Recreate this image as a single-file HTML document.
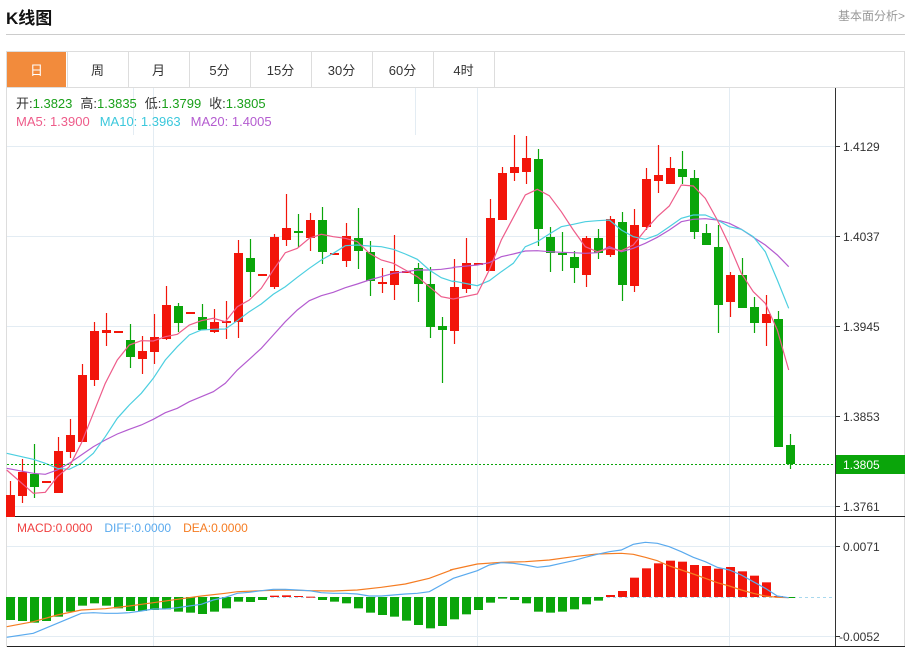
<!DOCTYPE html>
<html><head><meta charset="utf-8"><style>
body{margin:0;background:#fff;font-family:"Liberation Sans","Noto Sans CJK SC",sans-serif;}
#w{position:relative;width:913px;height:648px;overflow:hidden;}
.t{position:absolute;}
</style></head><body><div id="w">
<div class="t" style="left:6px;top:4px;font-size:17px;font-weight:bold;color:#111;">K线图</div>
<div class="t" style="left:838px;top:7px;font-size:12px;color:#999;">基本面分析&gt;</div>
<div class="t" style="left:6px;top:34px;width:899px;height:1px;background:#ccc;"></div>
<svg id="s" class="t" style="left:0;top:0" width="913" height="648" xmlns="http://www.w3.org/2000/svg"></svg>
</div>
<script>
var S=document.getElementById('s'),h='';
function R(x,y,w,hh,f,st){h+='<rect x="'+x+'" y="'+y+'" width="'+w+'" height="'+hh+'" fill="'+f+'"'+(st?' stroke="'+st+'"':'')+'/>';}
function L(x1,y1,x2,y2,c,extra){h+='<line x1="'+x1+'" y1="'+y1+'" x2="'+x2+'" y2="'+y2+'" stroke="'+c+'" '+(extra||'')+'/>';}
function T(x,y,s,c,sz,a){h+='<text x="'+x+'" y="'+y+'" fill="'+c+'" font-size="'+(sz||12)+'"'+(a?' text-anchor="'+a+'"':'')+'>'+s+'</text>';}
// frame
R(6.5,51.5,898,595,'none','#ddd');
// tabs
R(7,52,59,35,'#f28b3c');
var tabs=['日','周','月','5分','15分','30分','60分','4时'];
for(var i=0;i<8;i++){var x=6+i*61;T(x+30.5,75,tabs[i],i==0?'#fff':'#333',13,'middle');L(x+61.5,52,x+61.5,87,'#ddd');}
L(6,87.5,905,87.5,'#ddd');
// grids
[146,236,326,416,506].forEach(function(y){L(7,y+.5,835,y+.5,'#e3ecf3');});
[546,636].forEach(function(y){L(7,y+.5,835,y+.5,'#e3ecf3');});
[153,477,729].forEach(function(x){L(x+.5,88,x+.5,646,'#e3ecf3');});
L(133.5,88,133.5,135,'#e3ecf3');L(415.5,88,415.5,135,'#e3ecf3');
// axes
L(835.5,88,835.5,646,'#333');
L(7,516.5,905,516.5,'#222');L(7,646.5,905,646.5,'#222');
var pl=[[146,'1.4129'],[236,'1.4037'],[326,'1.3945'],[416,'1.3853'],[506,'1.3761']];
pl.forEach(function(p){L(835,p[0]+.5,840,p[0]+.5,'#333');T(843,p[0]+5,p[1],'#333',12);});
L(835,546.5,840,546.5,'#333');T(843,551,'0.0071','#333',12);
L(835,636.5,840,636.5,'#333');T(839,641,'-0.0052','#333',12);
// candles
var RD='#f2150a',GN='#0aa50a';
var c=[
[495,517,481,517,RD],[472,496,459,503,RD],[474,487,444,498,GN],[481,483,481,483,RD],[451,493,437,493,RD],
[435,452,419,458,RD],[375,442,364,442,RD],[331,380,322,386,RD],[330,333,313,346,RD],[331,333,331,333,RD],
[340,357,324,368,GN],[351,359,336,374,RD],[337,352,314,364,RD],[305,339,286,340,RD],[306,323,303,332,GN],
[312,314,312,314,RD],[317,330,304,330,GN],[322,332,309,333,RD],[321,323,301,339,RD],[253,322,240,338,RD],
[258,272,239,297,GN],[274,276,274,276,RD],[237,287,234,289,RD],[228,240,194,246,RD],[231,233,214,247,GN],
[220,238,213,251,RD],[220,252,207,264,GN],[253,255,253,255,RD],[236,261,223,267,RD],[238,251,208,269,GN],
[252,281,241,296,GN],[282,284,268,293,RD],[271,285,235,300,RD],[271,273,271,273,RD],[268,284,263,302,GN],
[284,327,267,338,GN],[326,330,317,383,GN],[287,331,259,344,RD],[263,289,238,293,RD],[263,265,263,265,RD],
[218,271,199,271,RD],[173,220,167,220,RD],[167,173,135,181,RD],[158,172,136,184,RD],[159,229,149,246,GN],
[237,253,227,272,GN],[253,255,232,271,GN],[257,268,251,283,GN],[238,275,236,287,RD],[238,253,229,259,GN],
[219,255,216,257,RD],[222,285,212,301,GN],[225,286,209,292,RD],[179,227,168,230,RD],[175,181,145,193,RD],
[168,184,157,184,RD],[169,177,151,184,GN],[178,232,170,239,GN],[233,245,224,245,GN],[247,305,225,333,GN],
[275,302,272,317,RD],[275,308,258,308,GN],[307,323,297,333,GN],[314,323,295,346,RD],[319,447,311,447,GN],
[445,464,434,469,GN]];
c.forEach(function(d,i){var x=10+12*i;L(x+.5,d[2],x+.5,d[3],d[4],'stroke-width="1.2"');var hh=Math.max(2,d[1]-d[0]);R(x-4,d[0],9,hh,d[4]);});
function P(pts,col,sc,ox,oy){var s=pts.map(function(p){return (sc?(p[0]/3+ox):p[0]).toFixed(1)+','+(sc?(p[1]/3+oy):p[1]).toFixed(1);}).join(' ');h+='<polyline points="'+s+'" fill="none" stroke="'+col+'" stroke-width="1.2"/>';}
function Z(a,b){return a.map(function(p){return [p[0]/3,p[1]/3+130];}).concat(b.map(function(p){return [p[0]/3+450,p[1]/3+130];}));}
var ma5=Z([[20,1020],[100,1090],[136,1087],[172,1040],[208,1010],[244,940],[280,850],[316,760],[352,690],[388,645],[424,632],[460,633],[496,620],[532,613],[568,585],[604,572],[640,565],[676,575],[712,530],[748,510],[784,475],[820,420],[856,368],[892,355],[928,325],[964,313],[1000,320],[1036,325],[1072,335],[1108,370],[1144,390],[1180,400],[1216,420],[1252,440],[1288,470],[1324,500],[1360,507]],
[[10,507],[82,492],[118,420],[154,330],[226,195],[262,178],[298,197],[334,245],[370,300],[406,350],[442,365],[478,355],[514,362],[550,345],[586,300],[622,260],[658,228],[694,165],[730,168],[766,205],[802,270],[838,345],[874,430],[910,485],[946,520],[982,600],[1016,720]]);
var ma10=Z([[20,970],[100,988],[136,1000],[172,1015],[208,1018],[244,1000],[280,970],[316,920],[352,865],[388,825],[424,790],[460,745],[496,690],[532,650],[568,615],[604,600],[640,598],[676,597],[712,572],[748,545],[784,522],[820,493],[856,470],[892,442],[928,415],[964,390],[1000,370],[1036,347],[1072,345],[1108,348],[1144,350],[1180,358],[1216,372],[1252,388],[1288,420],[1324,443],[1360,455]],
[[10,453],[82,467],[118,452],[154,425],[190,400],[226,350],[262,335],[298,312],[334,290],[370,283],[406,275],[442,272],[478,270],[514,300],[550,320],[586,328],[622,315],[658,290],[694,265],[730,255],[766,255],[802,270],[838,290],[874,298],[910,320],[946,365],[982,450],[1016,535]]);
var ma20=Z([[20,1015],[100,1030],[136,1033],[172,1020],[208,1000],[244,975],[280,950],[316,930],[352,912],[388,898],[424,885],[460,868],[496,848],[532,835],[568,815],[604,800],[640,785],[676,760],[712,720],[748,688],[784,655],[820,615],[856,575],[892,540],[928,512],[964,497],[1000,487],[1036,473],[1072,462],[1108,450],[1144,440],[1180,430],[1216,425],[1252,420],[1288,420],[1324,418],[1360,413]],
[[10,412],[82,405],[118,398],[154,380],[190,372],[226,363],[262,362],[298,365],[334,367],[370,368],[406,370],[442,368],[478,350],[514,365],[550,355],[586,340],[622,322],[658,300],[694,275],[730,268],[766,266],[802,270],[838,280],[874,298],[910,322],[946,345],[982,375],[1016,410]]);
P(ma20,'#b45cd0');P(ma10,'#4ccfe0');P(ma5,'#ee5c8a');
// current price line
L(7,464.5,835,464.5,'#0aa50a','stroke-dasharray="2,2"');
R(836,455,69,19,'#0aa50a');T(843,469,'1.3805','#fff',12);
// MACD bars
L(7,597.5,835,597.5,'#a8d8ee','stroke-dasharray="3,3"');
var mb=[330,333,338,333,320,305,287,280,287,295,303,303,300,298,305,308,312,305,295,275,276,270,257,256,258,260,270,275,280,295,308,315,320,332,345,355,348,328,313,300,278,266,270,280,305,308,305,298,283,272,255,243,203,175,160,152,155,165,168,176,171,184,197,217,258,262];
mb.forEach(function(v,i){var x=10+12*i,y=510+v/3,z=597;if(y>z){R(x-4,z,9,Math.max(1,y-z),GN);}else{R(x-4,y,9,Math.max(1,z-y),RD);}});
var diff=[[20,382],[100,370],[136,355],[172,340],[208,325],[244,310],[280,308],[316,310],[352,310],[388,308],[424,303],[460,297],[496,297],[532,293],[568,288],[604,283],[640,270],[676,262],[712,250],[748,247],[784,242],[820,238],[856,238],[892,240],[928,242],[964,248],[1000,250],[1036,250],[1072,252],[1108,258],[1144,258],[1180,255],[1216,252],[1252,250],[1288,245],[1324,225],[1360,205]].map(function(p){return[p[0]/3,p[1]/3+510];}).concat([[82,182],[118,165],[154,158],[190,160],[226,165],[262,172],[298,168],[334,160],[370,152],[406,142],[442,133],[478,125],[514,120],[550,103],[586,97],[622,100],[658,110],[694,125],[730,142],[766,155],[802,172],[838,180],[874,195],[910,215],[946,235],[982,258],[1016,263]].map(function(p){return[p[0]/3+450,p[1]/3+510];}));
var dea=[[20,350],[100,335],[172,315],[244,300],[316,296],[388,288],[460,278],[532,268],[604,258],[676,250],[712,245],[784,242],[856,240],[928,242],[1000,243],[1072,240],[1144,232],[1216,222],[1288,205],[1360,178]].map(function(p){return[p[0]/3,p[1]/3+510];}).concat([[0,180],[82,162],[154,157],[226,155],[298,150],[370,140],[442,132],[514,130],[550,133],[586,142],[622,152],[658,168],[694,180],[730,192],[766,205],[802,218],[838,228],[874,240],[910,250],[946,258],[982,262],[1016,263]].map(function(p){return[p[0]/3+450,p[1]/3+510];}));
P(dea,'#f57c22');P(diff,'#5aaaee');
// legends
h+='<text x="16" y="108" font-size="13"><tspan fill="#333">开:</tspan><tspan fill="#1aa01a">1.3823</tspan><tspan fill="#333" dx="8">高:</tspan><tspan fill="#1aa01a">1.3835</tspan><tspan fill="#333" dx="8">低:</tspan><tspan fill="#1aa01a">1.3799</tspan><tspan fill="#333" dx="8">收:</tspan><tspan fill="#1aa01a">1.3805</tspan></text>';
h+='<text x="16" y="126" font-size="13"><tspan fill="#ee5c8a">MA5: 1.3900</tspan><tspan fill="#3cc8dc" dx="10">MA10: 1.3963</tspan><tspan fill="#b45cd0" dx="10">MA20: 1.4005</tspan></text>';
h+='<text x="17" y="532" font-size="12"><tspan fill="#f04040">MACD:0.0000</tspan><tspan fill="#5aaaee" dx="12">DIFF:0.0000</tspan><tspan fill="#f57c22" dx="12">DEA:0.0000</tspan></text>';
S.innerHTML=h;
</script></body></html>
